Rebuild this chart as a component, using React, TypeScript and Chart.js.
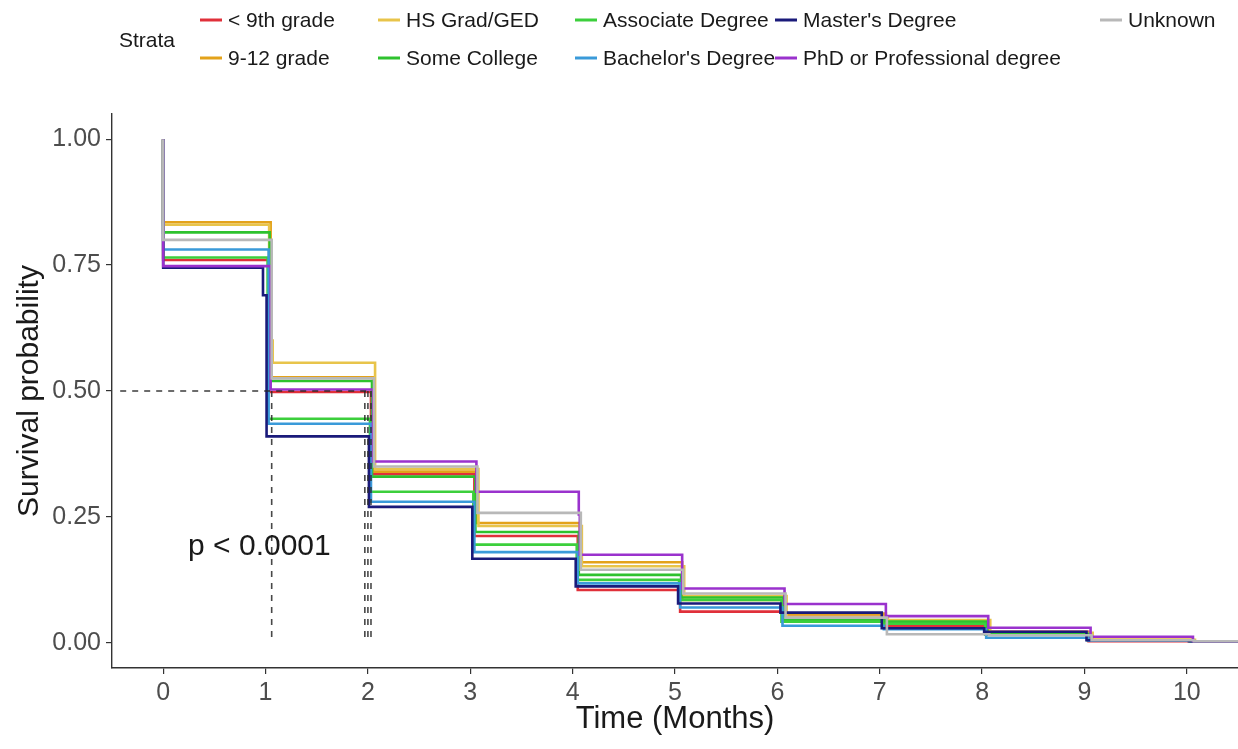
import React, { useEffect, useRef } from 'react';
import { Chart, registerables } from 'chart.js';

Chart.register(...registerables);

// ---------- data ----------
const strata = [
  '< 9th grade',
  '9-12 grade',
  'HS Grad/GED',
  'Some College',
  'Associate Degree',
  "Bachelor's Degree",
  "Master's Degree",
  'PhD or Professional degree',
  'Unknown',
];

const strataColors = [
  '#e0303a',
  '#e3a21a',
  '#e8c44a',
  '#2ec22e',
  '#3ccf3c',
  '#3a9ad9',
  '#1a1a7a',
  '#9a32cd',
  '#b8b8b8',
];

// time (months) at which each survival step occurs
const stepTimes = [0, 1.02, 2.02, 3.03, 4.04, 5.04, 6.04, 7.03, 8.03, 9.03, 10.03];
// small per-stratum shift of the step times
const stepLag = [0.01, 0.03, 0.05, 0.02, 0.0, 0.01, -0.01, 0.03, 0.04];
const endTime = 10.5;

// survival probability after each step
const survLt9 = [0.76, 0.498, 0.335, 0.212, 0.105, 0.062, 0.055, 0.033, 0.022, 0.003, 0.003];
const surv912 = [0.835, 0.527, 0.34, 0.238, 0.16, 0.085, 0.058, 0.04, 0.018, 0.006, 0.003];
const survHS = [0.83, 0.556, 0.345, 0.232, 0.152, 0.093, 0.052, 0.045, 0.02, 0.006, 0.003];
const survSomeCollege = [0.815, 0.52, 0.33, 0.22, 0.135, 0.09, 0.045, 0.042, 0.018, 0.005, 0.003];
const survAssociate = [0.765, 0.445, 0.3, 0.195, 0.125, 0.085, 0.042, 0.038, 0.016, 0.005, 0.003];
const survBachelor = [0.781, 0.435, 0.28, 0.18, 0.118, 0.07, 0.034, 0.027, 0.01, 0.004, 0.003];
const survMaster = [0.745, 0.41, 0.27, 0.167, 0.112, 0.078, 0.06, 0.029, 0.022, 0.005, 0.003];
const survPhD = [0.748, 0.503, 0.36, 0.3, 0.175, 0.108, 0.077, 0.053, 0.03, 0.012, 0.003];
const survUnknown = [0.8, 0.525, 0.35, 0.258, 0.145, 0.098, 0.05, 0.017, 0.015, 0.005, 0.003];

const survSeries = [
  survLt9, surv912, survHS, survSomeCollege, survAssociate,
  survBachelor, survMaster, survPhD, survUnknown,
];

// extra intermediate steps just before the month-1 drop
const extraStepSeries = [6, 2, 2, 7];
const extraStepTimes = [0.975, 1.035, 1.055, 4.06];
const extraStepSurv = [0.69, 0.71, 0.6, 0.255];

const medianLevel = 0.5;
const medianStart = -0.42;
const medianTimes = [1.06, 1.97, 2.0, 2.03];

const xTicks = [0, 1, 2, 3, 4, 5, 6, 7, 8, 9, 10];
const yTicks = [0, 0.25, 0.5, 0.75, 1];

const pValueText = 'p < 0.0001';
const pValuePos = { x: 0.94, y: 0.19 };

const FONT = '"Liberation Sans", Arial, Helvetica, sans-serif';

// legend layout (pixels)
const legendColX = [200, 378, 575, 775, 1100];
const legendRowY = [20, 58];

const strataLegend = {
  id: 'strataLegend',
  afterDraw(chart: any) {
    const ctx = chart.ctx;
    ctx.save();
    ctx.font = `21px ${FONT}`;
    ctx.fillStyle = '#1a1a1a';
    ctx.textBaseline = 'middle';
    ctx.textAlign = 'left';
    ctx.fillText('Strata', 119, 41);
    strata.forEach((label, i) => {
      const col = Math.floor(i / 2);
      const row = i % 2;
      const x = legendColX[col];
      const y = legendRowY[row];
      ctx.strokeStyle = strataColors[i];
      ctx.lineWidth = 3;
      ctx.beginPath();
      ctx.moveTo(x, y);
      ctx.lineTo(x + 22, y);
      ctx.stroke();
      ctx.fillStyle = '#1a1a1a';
      ctx.fillText(label, x + 28, y + 1);
    });
    const xs = chart.scales.x;
    const ys = chart.scales.y;
    ctx.font = `30px ${FONT}`;
    ctx.textAlign = 'center';
    ctx.fillStyle = '#1a1a1a';
    ctx.fillText(pValueText, xs.getPixelForValue(pValuePos.x), ys.getPixelForValue(pValuePos.y));
    ctx.restore();
  },
};

function buildCurve(idx: number) {
  const values = survSeries[idx];
  const lag = stepLag[idx];
  const steps: { x: number; y: number }[] = [];
  for (let i = 1; i < values.length; i++) {
    steps.push({ x: stepTimes[i] + lag, y: values[i] });
  }
  extraStepSeries.forEach((s, k) => {
    if (s === idx) steps.push({ x: extraStepTimes[k], y: extraStepSurv[k] });
  });
  steps.sort((a, b) => a.x - b.x);
  const pts: { x: number; y: number }[] = [{ x: 0, y: 1 }, { x: 0, y: values[0] }, ...steps];
  pts.push({ x: endTime, y: values[values.length - 1] });
  return pts;
}

export default function App() {
  const canvasRef = useRef<HTMLCanvasElement | null>(null);

  useEffect(() => {
    if (!canvasRef.current) return;
    const curveSets = survSeries.map((_, i) => ({
      label: strata[i],
      data: buildCurve(i),
      borderColor: strataColors[i],
      backgroundColor: strataColors[i],
      borderWidth: 2.6,
      pointRadius: 0,
      stepped: 'before' as const,
      fill: false,
      order: 20 - i,
    }));
    const medianSets = [
      {
        label: 'median-h',
        data: [
          { x: medianStart, y: medianLevel },
          { x: Math.max(...medianTimes), y: medianLevel },
        ],
        borderColor: 'rgba(40,40,40,0.85)',
        borderWidth: 1.6,
        borderDash: [6, 6],
        pointRadius: 0,
        fill: false,
        order: 1,
      },
      ...medianTimes.map((t) => ({
        label: 'median-v',
        data: [
          { x: t, y: medianLevel },
          { x: t, y: 0 },
        ],
        borderColor: 'rgba(40,40,40,0.85)',
        borderWidth: 1.6,
        borderDash: [6, 6],
        pointRadius: 0,
        fill: false,
        order: 1,
      })),
    ];

    const chart = new Chart(canvasRef.current, {
      type: 'line',
      data: { datasets: [...curveSets, ...medianSets] as any },
      plugins: [strataLegend],
      options: {
        animation: false,
        responsive: true,
        maintainAspectRatio: false,
        layout: { padding: { top: 114, left: 0, right: 0, bottom: 0 } },
        plugins: {
          legend: { display: false },
          tooltip: { enabled: false },
        },
        scales: {
          x: {
            type: 'linear',
            min: -0.5,
            max: 10.5,
            afterBuildTicks: (scale: any) => {
              scale.ticks = xTicks.map((v) => ({ value: v }));
            },
            afterFit: (scale: any) => {
              scale.height = 81;
              scale.paddingLeft = 0;
              scale.paddingRight = 0;
            },
            grid: {
              drawOnChartArea: false,
              drawTicks: true,
              tickLength: 6,
              color: '#333333',
              lineWidth: 1.2,
            },
            border: { display: true, color: '#333333', width: 1.4 },
            ticks: {
              color: '#4d4d4d',
              font: { family: FONT, size: 25 },
              padding: 4,
              maxRotation: 0,
              autoSkip: false,
              callback: (v: any) => String(v),
            },
            title: {
              display: true,
              text: 'Time (Months)',
              color: '#1a1a1a',
              font: { family: FONT, size: 31 },
              padding: { top: 0, bottom: 11 },
            },
          },
          y: {
            type: 'linear',
            min: -0.05,
            max: 1.05,
            afterBuildTicks: (scale: any) => {
              scale.ticks = yTicks.map((v) => ({ value: v }));
            },
            afterFit: (scale: any) => {
              scale.width = 112;
              scale.paddingTop = 0;
              scale.paddingBottom = 0;
            },
            grid: {
              drawOnChartArea: false,
              drawTicks: true,
              tickLength: 6,
              color: '#333333',
              lineWidth: 1.2,
            },
            border: { display: true, color: '#333333', width: 1.4 },
            ticks: {
              color: '#4d4d4d',
              font: { family: FONT, size: 25 },
              padding: 5,
              autoSkip: false,
              callback: (v: any) => Number(v).toFixed(2),
            },
            title: {
              display: true,
              text: 'Survival probability',
              color: '#1a1a1a',
              font: { family: FONT, size: 30 },
              padding: { top: 12, bottom: 0 },
            },
          },
        },
      },
    });
    return () => chart.destroy();
  }, []);

  return (
    <div style={{ position: 'absolute', left: 0, top: 0, width: 1238, height: 749, background: '#ffffff' }}>
      <canvas ref={canvasRef} />
    </div>
  );
}
